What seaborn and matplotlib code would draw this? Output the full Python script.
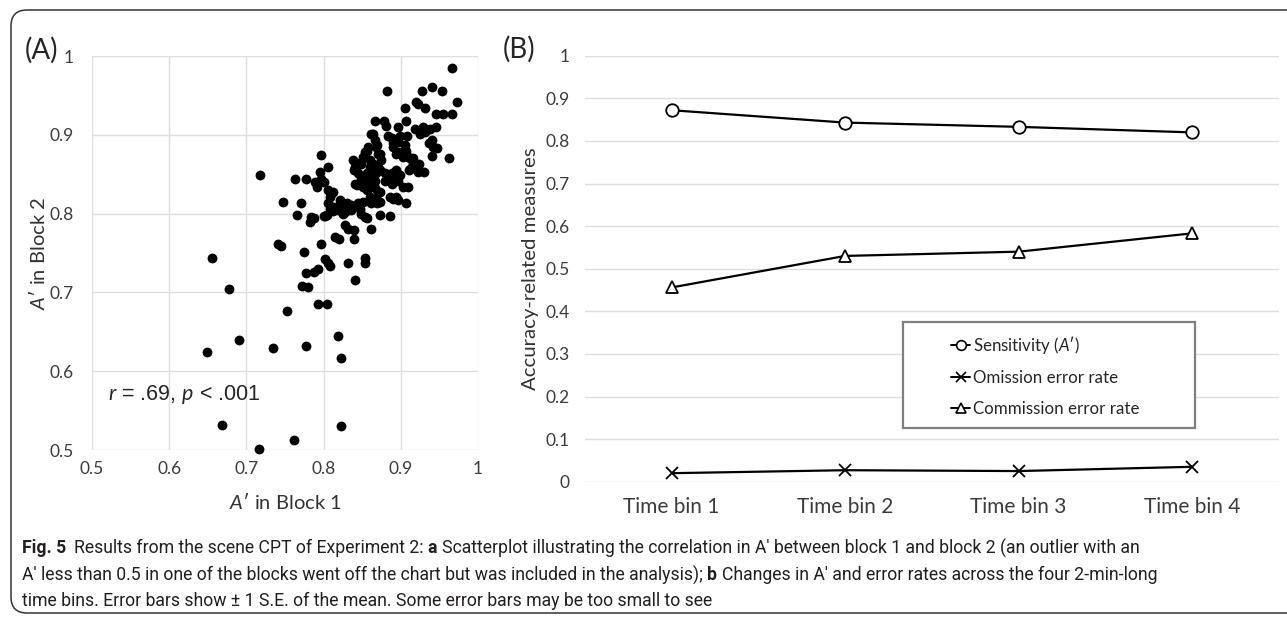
import matplotlib
matplotlib.use("Agg")
import matplotlib.pyplot as plt
import seaborn as sns
import pandas as pd
from matplotlib.patches import FancyBboxPatch, Rectangle
from matplotlib.lines import Line2D
from matplotlib.ticker import FuncFormatter
from matplotlib.transforms import IdentityTransform

# panel A: A' per participant, block 1 vs block 2
block1 = [
    0.966, 0.882, 0.940, 0.954, 0.928, 0.973, 0.920, 0.922, 0.932, 0.906,
    0.946, 0.955, 0.966, 0.866, 0.878, 0.881, 0.897, 0.907, 0.918, 0.929,
    0.938, 0.946, 0.861, 0.864, 0.883, 0.888, 0.899, 0.908, 0.925, 0.931,
    0.963, 0.940, 0.942, 0.947, 0.940, 0.930, 0.924, 0.916, 0.909, 0.915,
    0.911, 0.899, 0.903, 0.894, 0.907, 0.890, 0.897, 0.905, 0.873, 0.875,
    0.858, 0.853, 0.851, 0.868, 0.866, 0.849, 0.841, 0.839, 0.845, 0.849,
    0.856, 0.860, 0.864, 0.871, 0.868, 0.873, 0.856, 0.860, 0.866, 0.879,
    0.886, 0.890, 0.897, 0.903, 0.909, 0.894, 0.899, 0.879, 0.847, 0.843,
    0.851, 0.856, 0.866, 0.873, 0.860, 0.868, 0.886, 0.890, 0.897, 0.907,
    0.862, 0.873, 0.845, 0.836, 0.830, 0.847, 0.849, 0.853, 0.856, 0.862,
    0.873, 0.886, 0.821, 0.830, 0.828, 0.836, 0.821, 0.825, 0.812, 0.808,
    0.810, 0.812, 0.806, 0.806, 0.797, 0.795, 0.797, 0.800, 0.789, 0.791,
    0.806, 0.808, 0.810, 0.804, 0.812, 0.800, 0.819, 0.821, 0.815, 0.820,
    0.828, 0.832, 0.839, 0.839, 0.853, 0.853, 0.841, 0.831, 0.777, 0.763,
    0.748, 0.771, 0.765, 0.784, 0.787, 0.782, 0.802, 0.796, 0.802, 0.806,
    0.808, 0.741, 0.745, 0.774, 0.777, 0.787, 0.793, 0.772, 0.780, 0.793,
    0.805, 0.752, 0.718, 0.656, 0.678, 0.691, 0.649, 0.735, 0.777, 0.819,
    0.823, 0.668, 0.822, 0.762, 0.716,
    0.838, 0.843, 0.841, 0.856, 0.869, 0.860, 0.871, 0.864, 0.864, 0.858,
    0.888, 0.888, 0.894, 0.869, 0.851, 0.890, 0.912, 0.916, 0.937, 0.922,
    0.912,
]
block2 = [
    0.985, 0.956, 0.961, 0.956, 0.956, 0.942, 0.942, 0.939, 0.934, 0.934,
    0.927, 0.927, 0.927, 0.918, 0.918, 0.911, 0.910, 0.918, 0.908, 0.910,
    0.908, 0.910, 0.901, 0.901, 0.899, 0.896, 0.898, 0.899, 0.901, 0.904,
    0.871, 0.893, 0.885, 0.883, 0.873, 0.853, 0.863, 0.870, 0.872, 0.859,
    0.855, 0.878, 0.872, 0.876, 0.880, 0.885, 0.891, 0.887, 0.876, 0.868,
    0.885, 0.878, 0.872, 0.885, 0.893, 0.863, 0.859, 0.855, 0.851, 0.846,
    0.851, 0.859, 0.863, 0.859, 0.851, 0.855, 0.842, 0.838, 0.842, 0.851,
    0.849, 0.844, 0.842, 0.834, 0.834, 0.855, 0.849, 0.842, 0.840, 0.836,
    0.834, 0.830, 0.832, 0.827, 0.821, 0.821, 0.821, 0.819, 0.817, 0.814,
    0.813, 0.815, 0.813, 0.811, 0.808, 0.806, 0.800, 0.796, 0.794, 0.781,
    0.798, 0.797, 0.817, 0.813, 0.802, 0.804, 0.806, 0.800, 0.808, 0.821,
    0.825, 0.827, 0.830, 0.859, 0.874, 0.853, 0.844, 0.840, 0.840, 0.834,
    0.813, 0.806, 0.804, 0.798, 0.803, 0.797, 0.804, 0.814, 0.770, 0.768,
    0.785, 0.780, 0.779, 0.768, 0.744, 0.737, 0.716, 0.737, 0.844, 0.844,
    0.815, 0.813, 0.798, 0.796, 0.794, 0.789, 0.797, 0.761, 0.743, 0.737,
    0.734, 0.762, 0.759, 0.751, 0.725, 0.726, 0.730, 0.708, 0.707, 0.685,
    0.685, 0.677, 0.849, 0.744, 0.704, 0.639, 0.624, 0.629, 0.632, 0.645,
    0.617, 0.532, 0.531, 0.513, 0.501,
    0.868, 0.864, 0.838, 0.880, 0.887, 0.868, 0.876, 0.855, 0.847, 0.842,
    0.851, 0.838, 0.821, 0.813, 0.815, 0.889, 0.870, 0.864, 0.889, 0.853,
    0.857,
]

# panel B: means per time bin
time_bins = ["Time bin 1", "Time bin 2", "Time bin 3", "Time bin 4"]
sensitivity = [0.872, 0.843, 0.833, 0.820]
omission = [0.020, 0.027, 0.025, 0.035]
commission = [0.456, 0.530, 0.540, 0.583]
series_names = ["Sensitivity ($A$\u2032)", "Omission error rate", "Commission error rate"]

axis_ticks_a = [0.5, 0.6, 0.7, 0.8, 0.9, 1.0]
axis_ticks_b = [0, 0.1, 0.2, 0.3, 0.4, 0.5, 0.6, 0.7, 0.8, 0.9, 1.0]

TICK_COL = "#3c3c3c"
LAB_COL = "#333333"
GRID_COL = "#dedede"

sns.set_theme(style="white")
plt.rcParams["font.family"] = ["Lato", "DejaVu Sans"]
plt.rcParams["mathtext.fontset"] = "custom"
plt.rcParams["mathtext.rm"] = "Lato"
plt.rcParams["mathtext.it"] = "Lato:italic"

fig = plt.figure(figsize=(12.87, 6.19), dpi=100)

# rounded frame around the whole figure (runs off the right edge)
frame = FancyBboxPatch((11, 6), 1320, 603, boxstyle="round,pad=0,rounding_size=16",
                       transform=IdentityTransform(), fill=False, edgecolor="#333333", lw=1.1)
fig.add_artist(frame)

fmt = FuncFormatter(lambda v, p: f"{v:g}")

# ---------- panel A ----------
axA = fig.add_axes([0.0715, 0.2730, 0.2999, 0.6365])
df_a = pd.DataFrame({"block1": block1, "block2": block2})
sns.scatterplot(data=df_a, x="block1", y="block2", ax=axA, color="black", s=50,
                linewidth=0, clip_on=False, zorder=3)
axA.set_xlim(0.5, 1.0)
axA.set_ylim(0.5, 1.0)
axA.set_xticks(axis_ticks_a)
axA.set_yticks(axis_ticks_a)
axA.xaxis.set_major_formatter(fmt)
axA.yaxis.set_major_formatter(fmt)
axA.grid(True, color=GRID_COL, lw=1.0)
axA.set_axisbelow(True)
for sp in axA.spines.values():
    sp.set_visible(False)
axA.tick_params(axis="both", length=0, labelsize=12.5, labelcolor=TICK_COL)
axA.tick_params(axis="x", pad=8)
axA.tick_params(axis="y", pad=13)
axA.set_xlabel("$A$\u2032 in Block 1", fontsize=14.5, color=LAB_COL, va="center")
axA.set_ylabel("$A$\u2032 in Block 2", fontsize=14.5, color=LAB_COL, va="center")
axA.xaxis.set_label_coords(0.5, -0.132)
axA.yaxis.set_label_coords(-0.140, 0.5)
axA.text(0.521, 0.570, "$r$ = .69, $p$ < .001", fontsize=15.5, color="#262626",
         family=["Liberation Sans", "DejaVu Sans"], ha="left", va="center")

fig.text(41 / 1287, 1 - 50 / 619, "(A)", fontsize=20, color="#262626", ha="center", va="center")
fig.text(519 / 1287, 1 - 49 / 619, "(B)", fontsize=20, color="#262626", ha="center", va="center")

# ---------- panel B ----------
axB = fig.add_axes([0.4545, 0.2218, 0.5392, 0.6882])
series = [
    (sensitivity, "o", dict(markerfacecolor="white")),
    (omission, "x", dict()),
    (commission, "^", dict(markerfacecolor="white")),
]
handles = []
for (vals, mk, extra), name in zip(series, series_names):
    sns.lineplot(x=time_bins, y=vals, ax=axB, color="black", lw=1.6, marker=mk,
                 markersize=9, markeredgecolor="black", markeredgewidth=1.3,
                 zorder=3, **extra)
    handles.append(Line2D([], [], color="black", lw=1.4, marker=mk, markersize=7,
                          markeredgecolor="black", markeredgewidth=1.2, **extra))
axB.set_xlim(-0.5, 3.5)
axB.set_ylim(0, 1)
axB.set_yticks(axis_ticks_b)
axB.yaxis.set_major_formatter(fmt)
axB.grid(True, axis="y", color=GRID_COL, lw=1.0)
axB.grid(False, axis="x")
axB.set_axisbelow(True)
for sp in axB.spines.values():
    sp.set_visible(False)
axB.tick_params(axis="both", length=0, labelcolor=TICK_COL)
axB.tick_params(axis="y", labelsize=12.5, pad=11)
axB.tick_params(axis="x", labelsize=15, pad=11)
axB.set_ylabel("Accuracy-related measures", fontsize=14.7, color=LAB_COL, va="center")
axB.yaxis.set_label_coords(-0.079, 0.5)
axB.set_xlabel("")

axB.add_patch(Rectangle((0.458, 0.126), 0.421, 0.249, transform=axB.transAxes,
                        facecolor="white", edgecolor="#7f7f7f", lw=1.6, zorder=4))
leg = axB.legend(handles, series_names, loc="center left", bbox_to_anchor=(0.528, 0.250),
                 frameon=False, fontsize=12.2, handlelength=1.1, handletextpad=0.15,
                 labelspacing=0.85, borderpad=0, borderaxespad=0)
leg.set_zorder(5)
for t in leg.get_texts():
    t.set_color("#262626")

# ---------- caption ----------
cap_size = 12.7
cap_col = "#231f20"
cap_font = ["Roboto", "DejaVu Sans"]
lines = [
    [("Fig. 5", "bold", 1.7), ("Results from the scene CPT of Experiment 2:", "normal", 1),
     ("a", "bold", 1), ("Scatterplot illustrating the correlation in A\u2032 between block 1 and block 2 (an outlier with an", "normal", 0)],
    [("A\u2032 less than 0.5 in one of the blocks went off the chart but was included in the analysis);", "normal", 1),
     ("b", "bold", 1), ("Changes in A\u2032 and error rates across the four 2-min-long", "normal", 0)],
    [("time bins. Error bars show \u00b1 1 S.E. of the mean. Some error bars may be too small to see", "normal", 0)],
]
line_y = [548, 575, 601]
renderer = fig.canvas.get_renderer()
space_px = cap_size * 100 / 72 * 0.25
for runs, yy in zip(lines, line_y):
    xpx = 22
    for txt, wt, gaps in runs:
        t = fig.text(xpx / 1287, 1 - yy / 619, txt, fontsize=cap_size, fontweight=wt,
                     color=cap_col, family=cap_font, ha="left", va="center")
        bb = t.get_window_extent(renderer)
        xpx += bb.width + gaps * space_px

fig.savefig("out.png", dpi=100, facecolor="white")
